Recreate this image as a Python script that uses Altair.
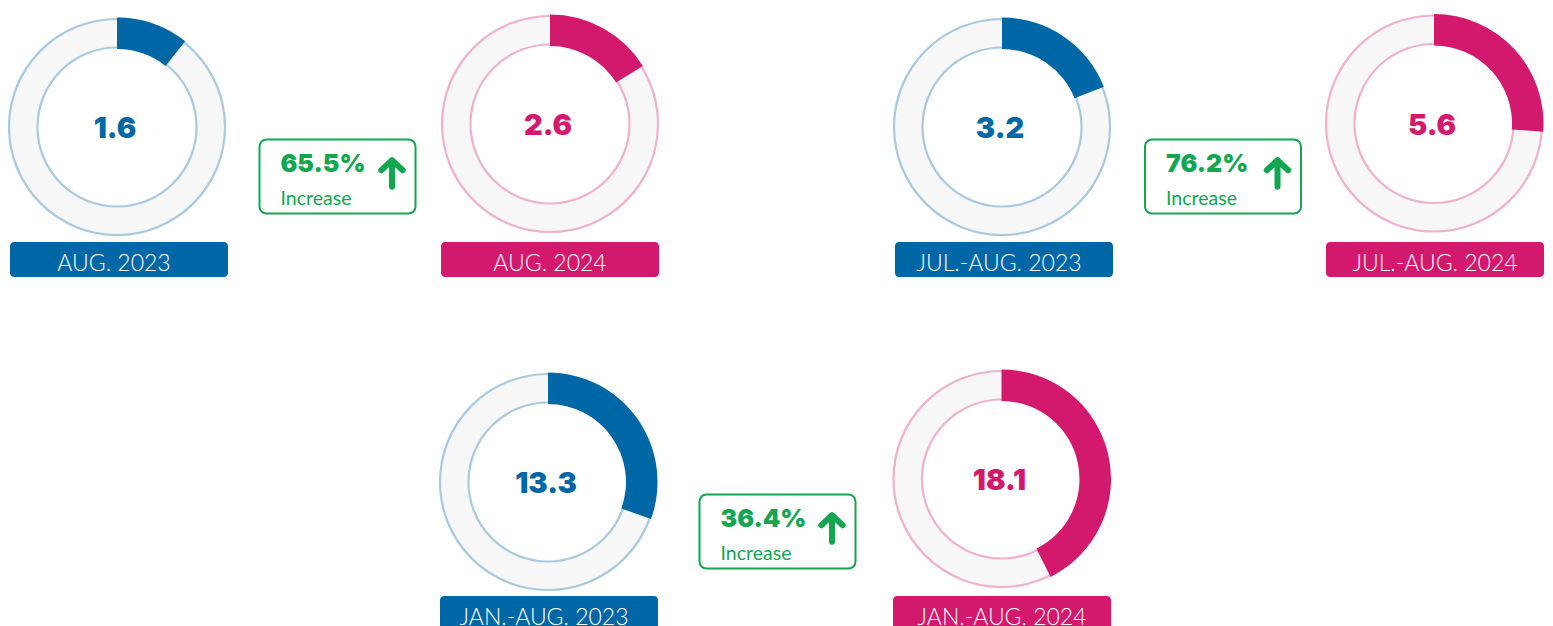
import math
import altair as alt
import pandas as pd

# ---------------- data ----------------
periods = ["AUG. 2023", "AUG. 2024", "JUL.-AUG. 2023", "JUL.-AUG. 2024",
           "JAN.-AUG. 2023", "JAN.-AUG. 2024"]
years = ["2023", "2024", "2023", "2024", "2023", "2024"]
values = [1.6, 2.6, 3.2, 5.6, 13.3, 18.1]
ring_shares = [0.107, 0.161, 0.190, 0.262, 0.305, 0.426]   # filled part of each ring
increase_pcts = ["65.5%", "76.2%", "36.4%"]
increase_words = ["Increase", "Increase", "Increase"]

# ---------------- layout (page pixels) ----------------
W, H = 1537, 618
donut_cx = [117, 550, 1002, 1434, 548, 1001.5]
donut_cy = [127, 124, 127, 123.5, 482, 479]
label_x0 = [10, 441, 895, 1326, 440, 893]
label_y0 = [242, 242, 242, 242, 596, 596]
LABEL_W, LABEL_H = 218, 35
label_text_dx = {"2023": -5, "2024": 0}
box_x0 = [259.5, 1145, 699.5]
box_y0 = [139.5, 139.5, 494.5]
BOX_W, BOX_H = 156, 74

BLUE, MAGENTA = "#0067a7", "#d2196d"
BLUE_RING, PINK_RING = "#a9c9e1", "#f0b0ce"
RING_FILL = "#f7f7f7"
GREEN = "#12a650"
FONT = "Lato"
BOLD_FONT = "Inter"

donuts = pd.DataFrame({
    "period": periods, "year": years, "value": values, "share": ring_shares,
    "cx": donut_cx, "cy": donut_cy, "lx0": label_x0, "ly0": label_y0,
})
donuts["lx1"] = donuts["lx0"] + LABEL_W
donuts["ly1"] = donuts["ly0"] + LABEL_H
donuts["ltx"] = donuts["lx0"] + LABEL_W / 2 + donuts["year"].map(label_text_dx)
donuts["lty"] = donuts["ly0"] + 28.5
donuts["ty"] = donuts["cy"] + 11
donuts["tx"] = donuts["cx"] - 2

boxes = pd.DataFrame({"pct": increase_pcts, "word": increase_words,
                      "bx0": box_x0, "by0": box_y0})
boxes["bx1"] = boxes["bx0"] + BOX_W
boxes["by1"] = boxes["by0"] + BOX_H
boxes["px"] = boxes["bx0"] + 21
boxes["py"] = boxes["by0"] + 32.5
boxes["wy"] = boxes["by0"] + 65
boxes["ax"] = boxes["bx0"] + 132.5
boxes["ay"] = boxes["by0"] + 34

xs = alt.Scale(domain=[8, 8 + W], nice=False, zero=False)
ys = alt.Scale(domain=[8 + H, 8], nice=False, zero=False)
year_fill = alt.Scale(domain=["2023", "2024"], range=[BLUE, MAGENTA])
year_ring = alt.Scale(domain=["2023", "2024"], range=[BLUE_RING, PINK_RING])


def X(f):
    return alt.X(f"{f}:Q", scale=xs, axis=None)


def Y(f):
    return alt.Y(f"{f}:Q", scale=ys, axis=None)


base = alt.Chart(donuts)

ring = base.mark_arc(radius=108, radius2=79.5, theta=0, theta2=2 * math.pi,
                     fill=RING_FILL, strokeWidth=2.2).encode(
    x=X("cx"), y=Y("cy"),
    stroke=alt.Stroke("year:N", scale=year_ring, legend=None),
)

seg = base.transform_calculate(
    t0="0", t1="datum.share * 2 * PI"
).mark_arc(radius=109.5, radius2=78).encode(
    x=X("cx"), y=Y("cy"),
    theta=alt.Theta("t0:Q", scale=None, stack=None),
    theta2=alt.Theta2("t1:Q"),
    color=alt.Color("year:N", scale=year_fill, legend=None),
)

num = base.mark_text(font=BOLD_FONT, fontSize=29, fontWeight=900, align="center",
                     baseline="alphabetic").encode(
    x=X("tx"), y=Y("ty"),
    text=alt.Text("value:Q", format=".1f"),
    color=alt.Color("year:N", scale=year_fill, legend=None),
)

lrect = base.mark_rect(cornerRadius=4).encode(
    x=X("lx0"), x2="lx1", y=Y("ly0"), y2="ly1",
    color=alt.Color("year:N", scale=year_fill, legend=None),
)

ltext = base.mark_text(font=FONT, fontSize=23, fontWeight=300, color="white",
                       align="center", baseline="alphabetic").encode(
    x=X("ltx"), y=Y("lty"), text="period:N",
)

bb = alt.Chart(boxes)
box = bb.mark_rect(fill="white", stroke=GREEN, strokeWidth=2, cornerRadius=7).encode(
    x=X("bx0"), x2="bx1", y=Y("by0"), y2="by1",
)
pct = bb.mark_text(font=BOLD_FONT, fontSize=25, fontWeight=900, color=GREEN,
                   align="left", baseline="alphabetic").encode(
    x=X("px"), y=Y("py"), text="pct:N",
)
word = bb.mark_text(font=FONT, fontSize=19.5, fontWeight=400, color=GREEN,
                    align="left", baseline="alphabetic").encode(
    x=X("px"), y=Y("wy"), text="word:N",
)
ARROW = "M0,0.83L0,-0.83M-0.67,-0.2L0,-0.83L0.67,-0.2"
arrow = bb.mark_point(shape=ARROW, size=1024, filled=False, stroke=GREEN,
                      strokeWidth=6, strokeCap="round", strokeJoin="round",
                      opacity=1).encode(
    x=X("ax"), y=Y("ay"),
)

chart = alt.layer(ring, seg, num, lrect, ltext, box, pct, word, arrow).properties(
    width=W, height=H, padding=0, autosize="none", background="white"
).configure_view(stroke=None)

chart.save("out.html", embed_options={"renderer": "svg", "actions": False})
